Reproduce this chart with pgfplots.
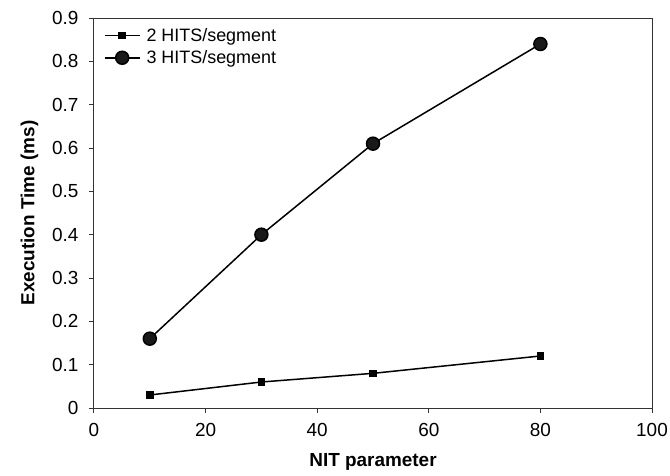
\documentclass[border=0pt]{standalone}
\usepackage{pgfplots}
\pgfplotsset{compat=1.18}
\usepackage{fontspec}
\setmainfont{Liberation Sans}
\begin{document}
\begin{tikzpicture}
\begin{axis}[
  at={(0,0)}, anchor=south west,
  scale only axis,
  width=558bp, height=390bp,
  xmin=0, xmax=100, ymin=0, ymax=0.9,
  xtick={0,20,...,100},
  ytick={0,0.1,...,0.9},
  yticklabels={0,0.1,0.2,0.3,0.4,0.5,0.6,0.7,0.8,0.9},
  tick pos=left,
  tick align=outside,
  major tick length=5bp,
  /pgf/number format/assume math mode=true,
  every tick label/.append style={font=\fontsize{19}{22}\selectfont},
  xticklabel shift=7bp,
  yticklabel shift=7bp,
  axis line style={line width=1bp, black!80},
  every tick/.style={line width=1bp, black!80},
  xlabel={\textbf{NIT parameter}},
  ylabel={\textbf{Execution Time (ms)}},
  label style={font=\fontsize{19}{22}\selectfont},
  xlabel style={yshift=-10bp},
  ylabel style={yshift=7bp},
  legend style={draw=none, fill=none, at={(0.012,0.985)}, anchor=north west,
    font=\fontsize{18}{21}\selectfont, row sep=4bp,
    nodes={inner xsep=6bp}},
  legend image code/.code={
    \draw[mark repeat=2,mark phase=2,#1] plot coordinates {(0cm,0cm) (0.62cm,0cm) (1.24cm,0cm)};},
  legend cell align=left,
]
\addplot[black, line width=1.5bp, mark=square*, mark size=3bp] coordinates {
  (10,0.03) (30,0.06) (50,0.08) (80,0.12)};
\addlegendentry{2 HITS/segment}
\addplot[black, line width=1.5bp, mark=*, mark size=6.5bp, mark options={fill=black!90}] coordinates {
  (10,0.16) (30,0.40) (50,0.61) (80,0.84)};
\addlegendentry{3 HITS/segment}
\end{axis}
\pgfresetboundingbox
\path (-94bp,-68bp) rectangle (576bp,408bp);
\end{tikzpicture}
\end{document}
